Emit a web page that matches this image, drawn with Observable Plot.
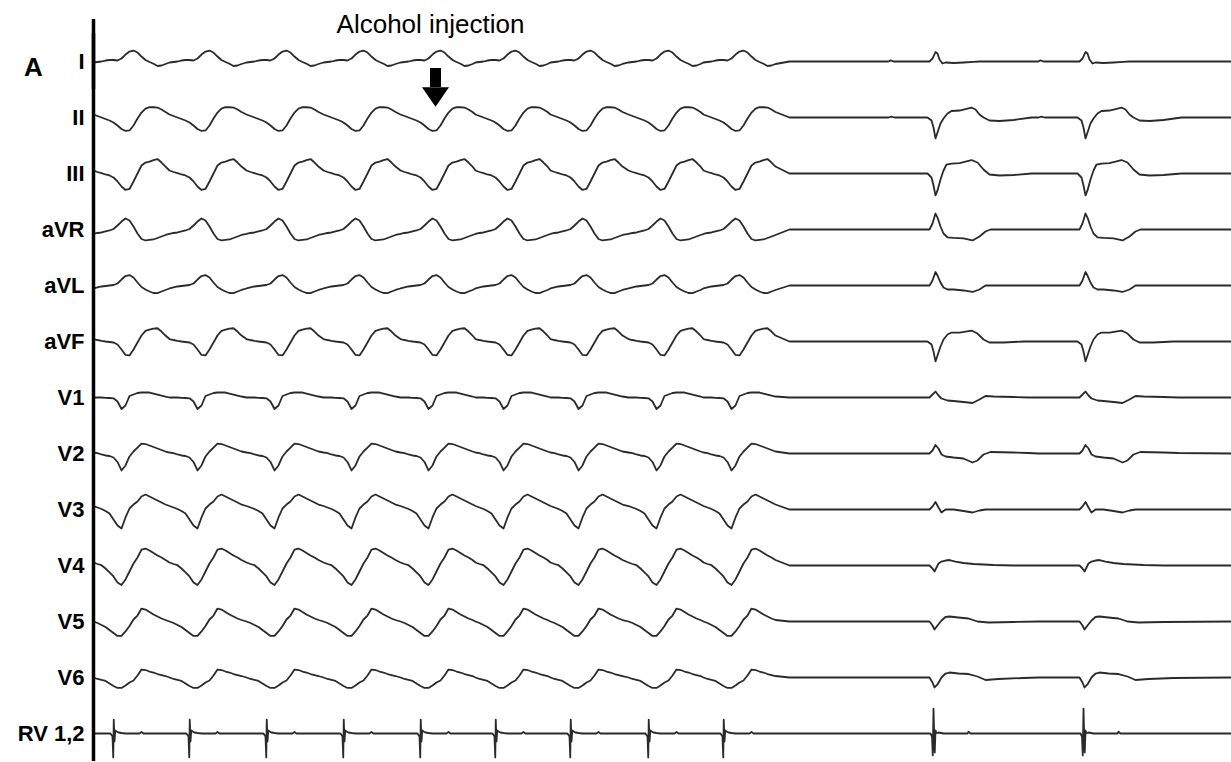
<!DOCTYPE html>
<html>
<head>
<meta charset="utf-8">
<script src="https://cdn.jsdelivr.net/npm/d3@7"></script>
<script src="https://cdn.jsdelivr.net/npm/@observablehq/plot@0.6"></script>
<style>
  html, body { margin: 0; padding: 0; background: #ffffff; }
  #chart svg { display: block; }
</style>
</head>
<body>
<div id="chart"></div>
<script>
const leads = ["I", "II", "III", "aVR", "aVL", "aVF", "V1", "V2", "V3", "V4", "V5", "V6", "RV 1,2"];

// Beat times (ms from start of strip) — ventricular tachycardia, then post-injection beats
const tachyBeatsMs = [80, 384, 692, 1000, 1308, 1608, 1908, 2220, 2520];
const sinusBeatsMs = [3360, 3960];
const recordEndMs = 4552;
const tachyRecoveryMs = 264;

// Tachycardia beat shapes of the 12 surface leads, sampled at these offsets (ms from beat)
const tachyOffsetsMs = [-80, -64, -48, -32, -16, 0, 16, 32, 48, 64, 80, 96, 112, 128, 144, 160, 176, 192, 208];
const tachyShapes = [
  [-1, -0.5, 0, 1, 1.5, 1.5, 1, 3, 7, 10, 11, 9, 5, 1.5, -0.5, -2.3, -4.5, -4, -2.5],          // I
  [3, 1.5, 0, -1.5, -3, -5, -8, -11.5, -13.5, -13, -8, -1, 5, 9, 10.3, 10.3, 10, 8, 5.5],       // II
  [3, 1.5, 0.3, -1, -2, -4, -8, -13, -16.5, -15.5, -8, 0, 8, 11, 12, 13.5, 14.5, 11, 7],        // III
  [-4.5, -3.5, -3, -2, -1, 0.5, 4, 8, 11, 9, 3, -4, -9.5, -11, -10.5, -10, -8.5, -7, -5.5],     // aVR
  [-3, -2, -1, -0.5, 0, 0.5, 2, 6, 9.5, 10.5, 8, 3, -1.5, -4, -6, -7.5, -7.7, -6, -4.5],        // aVL
  [2.5, 1.5, 0.7, 0, -0.5, -1, -3, -8, -13.5, -14, -8, -1, 6, 10.7, 12, 13, 13.3, 10, 6],       // aVF
  [0, 0, 0, -0.3, -0.5, -0.8, -4, -11.5, -8, 1.5, 3, 4.5, 5, 5, 5, 4, 3, 2, 1],                 // V1
  [1, 0.3, -1, -2, -2.5, -4, -8.5, -17, -12, -3, 2, 6, 10, 9.5, 8, 6.5, 5, 3.5, 2],             // V2
  [3.5, 2, 0.5, -1.5, -4, -10, -16, -19, -8, 1, 5, 8, 13, 15, 13, 11, 9, 7, 5],                 // V3
  [3, 1.5, 0.3, -3, -7, -11, -17, -19.5, -14, -6, 2, 8, 16, 17, 15, 12.5, 10, 8, 5.5],          // V4
  [0, -1.5, -3.5, -5.5, -8.5, -11.5, -14.5, -14.5, -10, -4.5, 2, 6, 13, 12, 9.5, 7, 5, 3, 1.5], // V5
  [0, -1.5, -2.5, -3.5, -6, -8.5, -10.5, -10.5, -8, -5, -3, 2, 8, 7.5, 6, 5, 3.5, 2.5, 1.5]     // V6
];

// Post-injection beat shapes of the surface leads: [offset ms, amplitude]
const sinusShapes = [
  [[-180,0],[-172,1.2],[-160,0],[-16,0],[-4,3],[8,9.5],[16,8],[24,2],[36,-2],[48,-1],[80,-1.5],[120,-1],[160,-0.3],[184,0]],
  [[-180,0],[-168,0.8],[-156,0],[-24,0],[-8,-3],[0,-10],[8,-21],[16,-15],[28,-6],[40,-1],[56,4],[72,6.5],[104,7],[128,8.5],[152,10],[168,8],[184,3],[200,0],[224,-3],[264,-3.5],[320,-2.5],[392,0]],
  [[-180,0],[-24,0],[-8,-4],[0,-12],[8,-22],[16,-17],[28,-6],[40,3],[52,9],[72,10],[104,10.5],[128,12],[152,13.5],[176,11],[200,4],[224,-1],[264,-2],[320,-1.5],[392,0]],
  [[-180,0],[-16,0],[-4,6],[8,16],[16,12],[28,3],[40,-4],[56,-8],[80,-8.5],[120,-9],[156,-11],[184,-7],[208,-2],[228,0]],
  [[-180,0],[-16,0],[-4,5],[8,13.5],[16,10],[28,3],[40,-2],[56,-4],[80,-4],[120,-5],[156,-6.5],[184,-4],[208,0]],
  [[-180,0],[-24,0],[-8,-3],[0,-10],[8,-20],[16,-14],[28,-5],[40,2],[56,7],[72,9],[104,9],[128,10],[152,11],[176,8],[200,2],[224,-1],[280,-1],[360,0]],
  [[-180,0],[-16,0],[-4,3],[8,6],[20,2],[32,-1],[56,-3],[80,-3.5],[120,-4.5],[156,-5.5],[184,-2],[208,1.5],[240,1],[320,0.5],[380,0]],
  [[-180,0],[-16,0],[-4,3],[8,8.5],[20,5],[32,-1],[48,-3],[80,-4],[120,-5],[156,-9],[176,-7],[200,-1],[228,1.5],[320,1],[380,0.5]],
  [[-180,0],[-16,0],[-4,3],[8,7.5],[20,2],[32,-3],[48,0],[80,0],[120,-1.5],[156,-3],[184,-1],[208,0]],
  [[-180,0],[-16,0],[-4,-3],[4,-6],[12,-2],[20,2],[32,4],[48,5],[64,5.5],[88,4],[120,2.5],[160,1.5],[240,0.5],[320,0]],
  [[-180,0],[-16,0],[-4,-4],[4,-8],[16,-4],[32,1],[48,4.5],[64,5],[100,4],[140,3],[176,0],[220,-1],[320,-0.5]],
  [[-180,0],[-16,0],[-4,-5],[4,-10],[16,-7],[32,0],[48,4],[64,5],[100,4],[140,3.5],[176,1],[208,-2.5],[260,-1.5],[360,-0.5]]
];

// Right-ventricular electrogram (RV 1,2): [offset ms, amplitude]
const rvTachyShape = [[-12,0],[-4,-3],[-1,-24],[1,14],[4,-8],[7,3],[12,2],[20,1],[32,0.5],[48,0],[104,0],[112,1.5],[120,0]];
const rvSinusShape = [[-12,0],[-6,-3],[-3,-22],[0,25],[3,-5],[5,-19],[8,3],[12,0.5],[20,1],[40,0],[136,0],[140,1.7],[148,0]];

// Annotations
const events = [{t: 1368, lead: "I", label: "Alcohol injection"}];
const panel = [{lead: "I", label: "A"}];
const spineTop = [{t: 0, lead: "I"}];

// ---- Build the sample table ----
const samples = [];
leads.forEach((lead, li) => {
  const pts = [];
  if (li < 12) {
    tachyBeatsMs.forEach(b => tachyOffsetsMs.forEach((o, k) => pts.push([b + o, tachyShapes[li][k]])));
    pts.push([tachyBeatsMs[tachyBeatsMs.length - 1] + tachyRecoveryMs, 0]);
    sinusBeatsMs.forEach(b => sinusShapes[li].forEach(([o, v]) => pts.push([b + o, v])));
  } else {
    pts.push([0, 0]);
    tachyBeatsMs.forEach(b => rvTachyShape.forEach(([o, v]) => pts.push([b + o, v])));
    sinusBeatsMs.forEach(b => rvSinusShape.forEach(([o, v]) => pts.push([b + o, v])));
  }
  pts.push([recordEndMs, 0]);
  pts.sort((a, b) => a[0] - b[0]);
  pts.forEach(([t, v]) => samples.push({lead, t, v}));
});

// Down-pointing block arrow head
const arrowHead = {
  draw(context, size) {
    const k = Math.sqrt(size / Math.PI);
    context.moveTo(-1.35 * k, -0.65 * k);
    context.lineTo(1.35 * k, -0.65 * k);
    context.lineTo(0, 1.3 * k);
    context.closePath();
  }
};

const chart = Plot.plot({
  width: 1231,
  height: 762,
  marginTop: 32,
  marginBottom: 0,
  marginLeft: 93,
  marginRight: 0,
  style: {fontFamily: "'Liberation Sans', Arial, Helvetica, sans-serif", background: "#ffffff", color: "#000"},
  x: {domain: [0, recordEndMs], axis: null},
  y: {domain: [-28.08, 28.08], axis: null},
  fy: {domain: leads, padding: 0, axis: null},
  marks: [
    Plot.axisFy({anchor: "left", tickSize: 0, tickPadding: 9, fontSize: 22, fontWeight: "bold", label: null}),
    Plot.line(samples, {x: "t", y: "v", fy: "lead", z: "lead", stroke: "#2a2a2a", strokeWidth: 1.8, strokeLinejoin: "round"}),
    Plot.ruleX([0], {stroke: "#000", strokeWidth: 3.5}),
    Plot.ruleX(spineTop, {x: "t", fy: "lead", insetTop: -14, stroke: "#000", strokeWidth: 3.5}),
    Plot.text(events, {x: "t", fy: "lead", text: "label", frameAnchor: "top", lineAnchor: "middle", dy: -9, dx: -5, fontSize: 26, fill: "#000"}),
    Plot.ruleX(events, {x: "t", fy: "lead", insetTop: 35, insetBottom: 2, stroke: "#000", strokeWidth: 11}),
    Plot.dot(events, {x: "t", fy: "lead", frameAnchor: "bottom", dy: 4.3, symbol: arrowHead, r: 10, fill: "#000", stroke: "none"}),
    Plot.text(panel, {fy: "lead", text: "label", frameAnchor: "left", dx: -60, dy: 6, textAnchor: "middle", fontSize: 26, fontWeight: "bold", fill: "#000"})
  ]
});
document.getElementById("chart").appendChild(chart);
</script>
</body>
</html>
